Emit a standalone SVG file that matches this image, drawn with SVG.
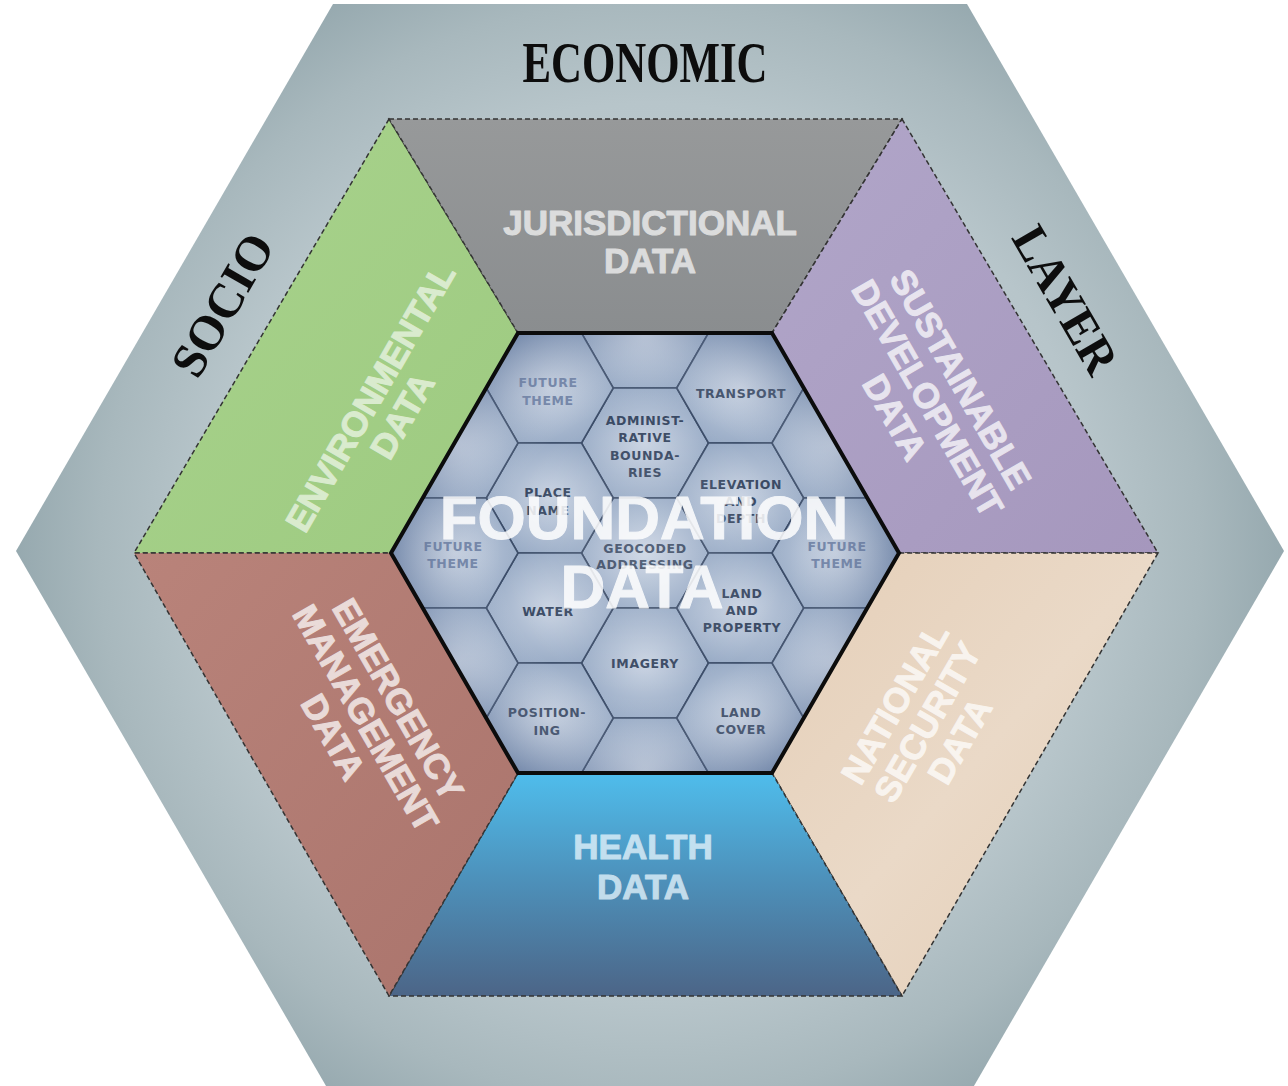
<svg xmlns="http://www.w3.org/2000/svg" xmlns:xlink="http://www.w3.org/1999/xlink" width="1288" height="1086" viewBox="0 0 1288 1086">
<defs>
<style>
.cell{fill:url(#cellG);stroke:#3b4c68;stroke-width:1.6}
.lbl{font-family:"DejaVu Sans","Liberation Sans",sans-serif;font-weight:bold;font-size:12.5px;fill:#394963;text-anchor:middle;letter-spacing:0.6px}
.ft{fill:#6d80a4}
.big{font-family:"Liberation Sans",Arial,sans-serif;font-weight:bold;font-size:35px;text-anchor:middle;fill:#ffffff;stroke:#ffffff;stroke-width:1;stroke-linejoin:round}
.trap{stroke:#333333;stroke-width:1.5;stroke-dasharray:5 3}
.ttl{font-family:"Liberation Serif","Times New Roman",serif;font-weight:bold;fill:#0d0d0d;text-anchor:middle}
</style>
<radialGradient id="outerG" gradientUnits="userSpaceOnUse" cx="650" cy="551" r="640">
<stop offset="0" stop-color="#c8d4d8"/>
<stop offset="0.7" stop-color="#b7c5ca"/>
<stop offset="0.86" stop-color="#a8b8bd"/>
<stop offset="1" stop-color="#95a8ae"/>
</radialGradient>
<linearGradient id="grayG" x1="0" y1="0" x2="0" y2="1"><stop offset="0" stop-color="#97999a"/><stop offset="1" stop-color="#8a8d8f"/></linearGradient>
<linearGradient id="greenG" x1="0" y1="0" x2="1" y2="1"><stop offset="0" stop-color="#a9d38d"/><stop offset="1" stop-color="#9dca80"/></linearGradient>
<linearGradient id="purpleG" x1="0" y1="0" x2="1" y2="1"><stop offset="0" stop-color="#b1a6c9"/><stop offset="1" stop-color="#a597bd"/></linearGradient>
<linearGradient id="beigeG" x1="0" y1="0" x2="1" y2="1"><stop offset="0" stop-color="#e5cfb8"/><stop offset="0.5" stop-color="#ead9c7"/><stop offset="1" stop-color="#e2cbb3"/></linearGradient>
<linearGradient id="redG" x1="0" y1="0" x2="1" y2="1"><stop offset="0" stop-color="#b9837a"/><stop offset="1" stop-color="#aa746c"/></linearGradient>
<linearGradient id="blueG" gradientUnits="userSpaceOnUse" x1="0" y1="773" x2="0" y2="996"><stop offset="0" stop-color="#4fbdec"/><stop offset="0.45" stop-color="#4d93bd"/><stop offset="1" stop-color="#4c6587"/></linearGradient>
<radialGradient id="cellG" cx="0.5" cy="0.5" r="0.55"><stop offset="0" stop-color="#c9d3e2"/><stop offset="1" stop-color="#97aac5"/></radialGradient>
<radialGradient id="vigG" gradientUnits="userSpaceOnUse" cx="645" cy="553" r="262"><stop offset="0" stop-color="#ffffff" stop-opacity="0.15"/><stop offset="0.55" stop-color="#ffffff" stop-opacity="0"/><stop offset="1" stop-color="#2a4373" stop-opacity="0.38"/></radialGradient>
<polygon id="cell" points="-63.5,0 -31.75,-55 31.75,-55 63.5,0 31.75,55 -31.75,55"/>
<clipPath id="innerClip"><polygon points="391,553 518,333 772,333 899,553 772,773 518,773"/></clipPath>
</defs>

<g id="socio-economic-layer">
<polygon points="16,551 333,4 967,4 1284,551 967,1098 333,1098" fill="url(#outerG)"/>
<text class="ttl" x="645" y="82" font-size="56" textLength="245" lengthAdjust="spacingAndGlyphs">ECONOMIC</text>
<text class="ttl" transform="translate(223,305) rotate(-60)" x="0" y="16" font-size="49" textLength="156" lengthAdjust="spacingAndGlyphs">SOCIO</text>
<text class="ttl" transform="translate(1065,300) rotate(60)" x="0" y="16" font-size="49" textLength="162" lengthAdjust="spacingAndGlyphs">LAYER</text>
</g>

<g id="environmental-data">
<polygon class="trap" points="389,119 134,553 391,553 518,333" fill="url(#greenG)"/>
<g transform="translate(386,406.5) rotate(-60)" class="big" opacity="0.6">
<text x="0" y="-6">ENVIRONMENTAL</text>
<text x="0" y="31">DATA</text>
</g>
</g>

<g id="jurisdictional-data">
<polygon class="trap" points="389,119 902,119 772,333 518,333" fill="url(#grayG)"/>
<g class="big" opacity="0.68">
<text x="650" y="235">JURISDICTIONAL</text>
<text x="650" y="273">DATA</text>
</g>
</g>

<g id="sustainable-development-data">
<polygon class="trap" points="902,119 1158,553 899,553 772,333" fill="url(#purpleG)"/>
<g transform="translate(928,398) rotate(60)" class="big" opacity="0.72">
<text x="0" y="-25.5">SUSTAINABLE</text>
<text x="0" y="12.5">DEVELOPMENT</text>
<text x="0" y="50.5">DATA</text>
</g>
</g>

<g id="national-security-data">
<polygon class="trap" points="1158,553 902,996 772,773 899,553" fill="url(#beigeG)"/>
<g transform="translate(927,722) rotate(-60)" class="big" opacity="0.72">
<text x="0" y="-25">NATIONAL</text>
<text x="0" y="12.5">SECURITY</text>
<text x="0" y="50">DATA</text>
</g>
</g>

<g id="health-data">
<polygon class="trap" points="902,996 389,996 518,773 772,773" fill="url(#blueG)"/>
<g class="big" opacity="0.78" style="fill:#e4f3fb;stroke:#e4f3fb">
<text x="643" y="859">HEALTH</text>
<text x="643" y="899">DATA</text>
</g>
</g>

<g id="emergency-management-data">
<polygon class="trap" points="389,996 134,553 391,553 518,773" fill="url(#redG)"/>
<g transform="translate(366,718) rotate(60)" class="big" opacity="0.72">
<text x="0" y="-25">EMERGENCY</text>
<text x="0" y="12.5">MANAGEMENT</text>
<text x="0" y="50">DATA</text>
</g>
</g>

<g id="foundation-data">
<polygon points="391,553 518,333 772,333 899,553 772,773 518,773" fill="#9fb0c9"/>
<g clip-path="url(#innerClip)">
<g id="cell-top"><use href="#cell" class="cell" x="645" y="333"/></g>
<g id="cell-administrative-boundaries"><use href="#cell" class="cell" x="645" y="443"/>
<text class="lbl" x="645" y="425">ADMINIST-</text><text class="lbl" x="645" y="442">RATIVE</text><text class="lbl" x="645" y="460">BOUNDA-</text><text class="lbl" x="645" y="477">RIES</text></g>
<g id="cell-geocoded-addressing"><use href="#cell" class="cell" x="645" y="553"/>
<text class="lbl" x="645" y="553" font-size="11.5">GEOCODED</text><text class="lbl" x="645" y="569" font-size="11.5">ADDRESSING</text></g>
<g id="cell-imagery"><use href="#cell" class="cell" x="645" y="663"/>
<text class="lbl" x="645" y="668">IMAGERY</text></g>
<g id="cell-bottom"><use href="#cell" class="cell" x="645" y="773"/></g>
<g id="cell-future-theme-1"><use href="#cell" class="cell" x="549.75" y="388"/>
<text class="lbl ft" x="548" y="387">FUTURE</text><text class="lbl ft" x="548" y="405">THEME</text></g>
<g id="cell-place-name"><use href="#cell" class="cell" x="549.75" y="498"/>
<text class="lbl" x="548" y="497">PLACE</text><text class="lbl" x="548" y="515">NAME</text></g>
<g id="cell-water"><use href="#cell" class="cell" x="549.75" y="608"/>
<text class="lbl" x="548" y="616">WATER</text></g>
<g id="cell-positioning"><use href="#cell" class="cell" x="549.75" y="718"/>
<text class="lbl" x="547" y="717">POSITION-</text><text class="lbl" x="547" y="735">ING</text></g>
<g id="cell-transport"><use href="#cell" class="cell" x="740.25" y="388"/>
<text class="lbl" x="741" y="398">TRANSPORT</text></g>
<g id="cell-elevation-and-depth"><use href="#cell" class="cell" x="740.25" y="498"/>
<text class="lbl" x="741" y="489">ELEVATION</text><text class="lbl" x="741" y="506">AND</text><text class="lbl" x="741" y="523">DEPTH</text></g>
<g id="cell-land-and-property"><use href="#cell" class="cell" x="740.25" y="608"/>
<text class="lbl" x="742" y="598">LAND</text><text class="lbl" x="742" y="615">AND</text><text class="lbl" x="742" y="632">PROPERTY</text></g>
<g id="cell-land-cover"><use href="#cell" class="cell" x="740.25" y="718"/>
<text class="lbl" x="741" y="717">LAND</text><text class="lbl" x="741" y="734">COVER</text></g>
<g id="cell-left-upper"><use href="#cell" class="cell" x="454.5" y="443"/></g>
<g id="cell-future-theme-2"><use href="#cell" class="cell" x="454.5" y="553"/>
<text class="lbl ft" x="453" y="551">FUTURE</text><text class="lbl ft" x="453" y="568">THEME</text></g>
<g id="cell-left-lower"><use href="#cell" class="cell" x="454.5" y="663"/></g>
<g id="cell-right-upper"><use href="#cell" class="cell" x="835.5" y="443"/></g>
<g id="cell-future-theme-3"><use href="#cell" class="cell" x="835.5" y="553"/>
<text class="lbl ft" x="837" y="551">FUTURE</text><text class="lbl ft" x="837" y="568">THEME</text></g>
<g id="cell-right-lower"><use href="#cell" class="cell" x="835.5" y="663"/></g>
<polygon points="391,553 518,333 772,333 899,553 772,773 518,773" fill="url(#vigG)"/>
</g>
<polygon points="391,553 518,333 772,333 899,553 772,773 518,773" fill="none" stroke="#0c0c0c" stroke-width="4" stroke-linejoin="miter"/>
<g class="big" style="font-size:62px" opacity="0.85">
<text x="644" y="539">FOUNDATION</text>
<text x="642" y="608">DATA</text>
</g>
</g>

<g id="connectors"/>
</svg>
